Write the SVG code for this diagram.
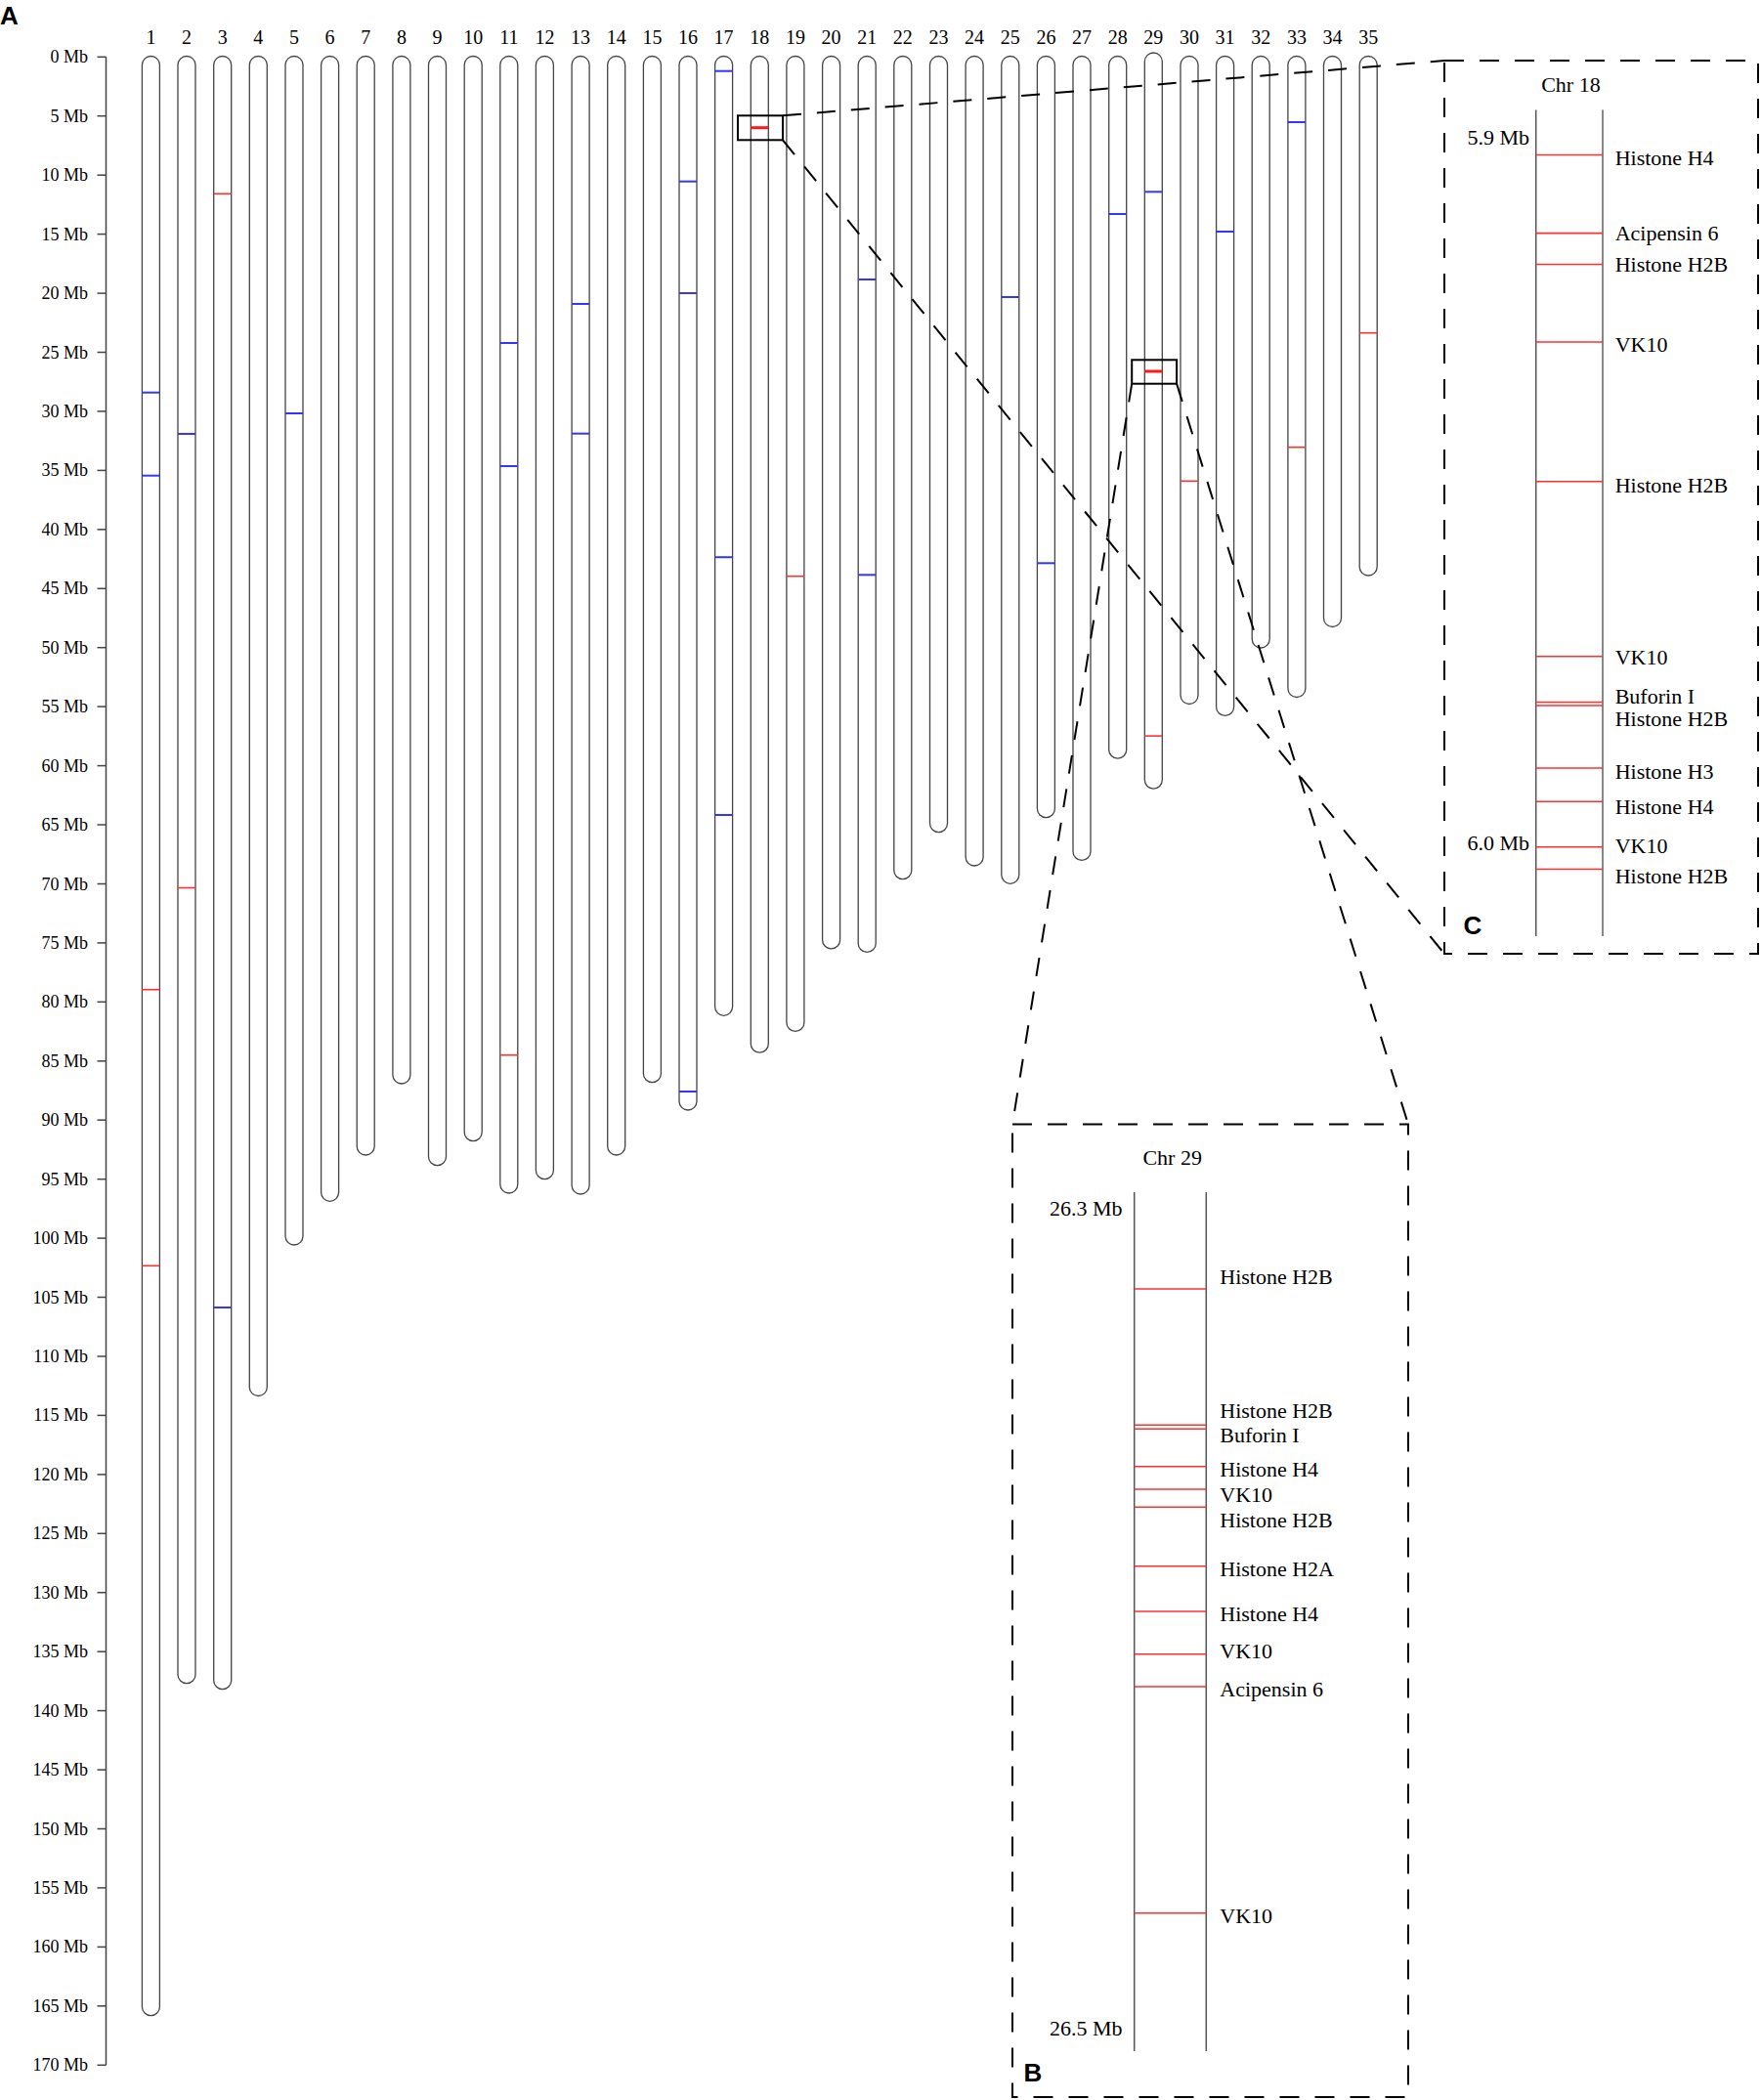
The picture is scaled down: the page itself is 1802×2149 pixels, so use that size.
<svg xmlns="http://www.w3.org/2000/svg" width="1802" height="2149" viewBox="0 0 1802 2149">
<style>
text{font-family:"Liberation Serif","Times New Roman",serif;fill:#000}
.num{font-size:20px;text-anchor:middle}
.ax{font-size:18px;text-anchor:end}
.pl{font-size:22px}
.pr{font-size:22px;text-anchor:end}
.pt{font-size:22px;text-anchor:middle}
.big{font-family:"Liberation Sans",Arial,sans-serif;font-size:26px;font-weight:bold}
.chr{fill:#fff;stroke:#444;stroke-width:1.3}
.b{stroke:#3535ff;stroke-width:2}
.r{stroke:#ff3030;stroke-width:1.6}
.rt{stroke:#ff1a1a;stroke-width:3}
.tick{stroke:#444;stroke-width:1.5}
.sel{fill:none;stroke:#000;stroke-width:2}
.dash{fill:none;stroke:#000;stroke-width:2;stroke-dasharray:19 16}
.box{fill:none;stroke:#000;stroke-width:2;stroke-dasharray:20 16}
.pline{stroke:#555;stroke-width:1.5}
</style>
<text class="big" x="0" y="25">A</text>
<g id="axis">
<line class="tick" x1="108.5" y1="58.3" x2="108.5" y2="2113.3"/>
<g class="tick">
<line x1="99.5" y1="58.3" x2="108.5" y2="58.3"/><line x1="99.5" y1="118.7" x2="108.5" y2="118.7"/><line x1="99.5" y1="179.2" x2="108.5" y2="179.2"/><line x1="99.5" y1="239.6" x2="108.5" y2="239.6"/><line x1="99.5" y1="300.1" x2="108.5" y2="300.1"/><line x1="99.5" y1="360.5" x2="108.5" y2="360.5"/><line x1="99.5" y1="420.9" x2="108.5" y2="420.9"/><line x1="99.5" y1="481.4" x2="108.5" y2="481.4"/><line x1="99.5" y1="541.8" x2="108.5" y2="541.8"/><line x1="99.5" y1="602.3" x2="108.5" y2="602.3"/><line x1="99.5" y1="662.7" x2="108.5" y2="662.7"/><line x1="99.5" y1="723.1" x2="108.5" y2="723.1"/><line x1="99.5" y1="783.6" x2="108.5" y2="783.6"/><line x1="99.5" y1="844" x2="108.5" y2="844"/><line x1="99.5" y1="904.5" x2="108.5" y2="904.5"/><line x1="99.5" y1="964.9" x2="108.5" y2="964.9"/><line x1="99.5" y1="1025.3" x2="108.5" y2="1025.3"/><line x1="99.5" y1="1085.8" x2="108.5" y2="1085.8"/><line x1="99.5" y1="1146.2" x2="108.5" y2="1146.2"/><line x1="99.5" y1="1206.7" x2="108.5" y2="1206.7"/><line x1="99.5" y1="1267.1" x2="108.5" y2="1267.1"/><line x1="99.5" y1="1327.5" x2="108.5" y2="1327.5"/><line x1="99.5" y1="1388" x2="108.5" y2="1388"/><line x1="99.5" y1="1448.4" x2="108.5" y2="1448.4"/><line x1="99.5" y1="1508.9" x2="108.5" y2="1508.9"/><line x1="99.5" y1="1569.3" x2="108.5" y2="1569.3"/><line x1="99.5" y1="1629.7" x2="108.5" y2="1629.7"/><line x1="99.5" y1="1690.2" x2="108.5" y2="1690.2"/><line x1="99.5" y1="1750.6" x2="108.5" y2="1750.6"/><line x1="99.5" y1="1811.1" x2="108.5" y2="1811.1"/><line x1="99.5" y1="1871.5" x2="108.5" y2="1871.5"/><line x1="99.5" y1="1931.9" x2="108.5" y2="1931.9"/><line x1="99.5" y1="1992.4" x2="108.5" y2="1992.4"/><line x1="99.5" y1="2052.8" x2="108.5" y2="2052.8"/><line x1="99.5" y1="2113.3" x2="108.5" y2="2113.3"/>
</g>
<text class="ax" x="90" y="64.3">0 Mb</text><text class="ax" x="90" y="124.7">5 Mb</text><text class="ax" x="90" y="185.2">10 Mb</text><text class="ax" x="90" y="245.6">15 Mb</text><text class="ax" x="90" y="306.1">20 Mb</text><text class="ax" x="90" y="366.5">25 Mb</text><text class="ax" x="90" y="426.9">30 Mb</text><text class="ax" x="90" y="487.4">35 Mb</text><text class="ax" x="90" y="547.8">40 Mb</text><text class="ax" x="90" y="608.3">45 Mb</text><text class="ax" x="90" y="668.7">50 Mb</text><text class="ax" x="90" y="729.1">55 Mb</text><text class="ax" x="90" y="789.6">60 Mb</text><text class="ax" x="90" y="850">65 Mb</text><text class="ax" x="90" y="910.5">70 Mb</text><text class="ax" x="90" y="970.9">75 Mb</text><text class="ax" x="90" y="1031.3">80 Mb</text><text class="ax" x="90" y="1091.8">85 Mb</text><text class="ax" x="90" y="1152.2">90 Mb</text><text class="ax" x="90" y="1212.7">95 Mb</text><text class="ax" x="90" y="1273.1">100 Mb</text><text class="ax" x="90" y="1333.5">105 Mb</text><text class="ax" x="90" y="1394">110 Mb</text><text class="ax" x="90" y="1454.4">115 Mb</text><text class="ax" x="90" y="1514.9">120 Mb</text><text class="ax" x="90" y="1575.3">125 Mb</text><text class="ax" x="90" y="1635.7">130 Mb</text><text class="ax" x="90" y="1696.2">135 Mb</text><text class="ax" x="90" y="1756.6">140 Mb</text><text class="ax" x="90" y="1817.1">145 Mb</text><text class="ax" x="90" y="1877.5">150 Mb</text><text class="ax" x="90" y="1937.9">155 Mb</text><text class="ax" x="90" y="1998.4">160 Mb</text><text class="ax" x="90" y="2058.8">165 Mb</text><text class="ax" x="90" y="2119.3">170 Mb</text>
</g>
<g id="chr1"><text class="num" x="154.4" y="45">1</text><rect class="chr" x="145.4" y="57.5" width="18" height="2005.2" rx="9"/><line class="b" x1="145.4" y1="401.7" x2="163.4" y2="401.7"/><line class="b" x1="145.4" y1="486.7" x2="163.4" y2="486.7"/><line class="r" x1="145.4" y1="1012.7" x2="163.4" y2="1012.7"/><line class="r" x1="145.4" y1="1295.3" x2="163.4" y2="1295.3"/></g>
<g id="chr2"><text class="num" x="191" y="45">2</text><rect class="chr" x="182" y="57.5" width="18" height="1665.2" rx="9"/><line class="b" x1="182" y1="444" x2="200" y2="444"/><line class="r" x1="182" y1="908.5" x2="200" y2="908.5"/></g>
<g id="chr3"><text class="num" x="227.7" y="45">3</text><rect class="chr" x="218.7" y="57.5" width="18" height="1671.2" rx="9"/><line class="r" x1="218.7" y1="198.3" x2="236.7" y2="198.3"/><line class="b" x1="218.7" y1="1338" x2="236.7" y2="1338"/></g>
<g id="chr4"><text class="num" x="264.3" y="45">4</text><rect class="chr" x="255.3" y="57.5" width="18" height="1371" rx="9"/></g>
<g id="chr5"><text class="num" x="301" y="45">5</text><rect class="chr" x="292" y="57.5" width="18" height="1216.5" rx="9"/><line class="b" x1="292" y1="423" x2="310" y2="423"/></g>
<g id="chr6"><text class="num" x="337.6" y="45">6</text><rect class="chr" x="328.6" y="57.5" width="18" height="1171.8" rx="9"/></g>
<g id="chr7"><text class="num" x="374.2" y="45">7</text><rect class="chr" x="365.2" y="57.5" width="18" height="1124.5" rx="9"/></g>
<g id="chr8"><text class="num" x="410.9" y="45">8</text><rect class="chr" x="401.9" y="57.5" width="18" height="1051.5" rx="9"/></g>
<g id="chr9"><text class="num" x="447.5" y="45">9</text><rect class="chr" x="438.5" y="57.5" width="18" height="1135.2" rx="9"/></g>
<g id="chr10"><text class="num" x="484.2" y="45">10</text><rect class="chr" x="475.2" y="57.5" width="18" height="1110.2" rx="9"/></g>
<g id="chr11"><text class="num" x="520.8" y="45">11</text><rect class="chr" x="511.8" y="57.5" width="18" height="1163.5" rx="9"/><line class="b" x1="511.8" y1="351" x2="529.8" y2="351"/><line class="b" x1="511.8" y1="477" x2="529.8" y2="477"/><line class="r" x1="511.8" y1="1079.7" x2="529.8" y2="1079.7"/></g>
<g id="chr12"><text class="num" x="557.4" y="45">12</text><rect class="chr" x="548.4" y="57.5" width="18" height="1149.2" rx="9"/></g>
<g id="chr13"><text class="num" x="594.1" y="45">13</text><rect class="chr" x="585.1" y="57.5" width="18" height="1164.5" rx="9"/><line class="b" x1="585.1" y1="311" x2="603.1" y2="311"/><line class="b" x1="585.1" y1="443.7" x2="603.1" y2="443.7"/></g>
<g id="chr14"><text class="num" x="630.7" y="45">14</text><rect class="chr" x="621.7" y="57.5" width="18" height="1124.5" rx="9"/></g>
<g id="chr15"><text class="num" x="667.4" y="45">15</text><rect class="chr" x="658.4" y="57.5" width="18" height="1050.2" rx="9"/></g>
<g id="chr16"><text class="num" x="704" y="45">16</text><rect class="chr" x="695" y="57.5" width="18" height="1078.5" rx="9"/><line class="b" x1="695" y1="185.7" x2="713" y2="185.7"/><line class="b" x1="695" y1="300" x2="713" y2="300"/><line class="b" x1="695" y1="1117" x2="713" y2="1117"/></g>
<g id="chr17"><text class="num" x="740.6" y="45">17</text><rect class="chr" x="731.6" y="57.5" width="18" height="981.8" rx="9"/><line class="b" x1="731.6" y1="72.7" x2="749.6" y2="72.7"/><line class="b" x1="731.6" y1="570.2" x2="749.6" y2="570.2"/><line class="b" x1="731.6" y1="834" x2="749.6" y2="834"/></g>
<g id="chr18"><text class="num" x="777.3" y="45">18</text><rect class="chr" x="768.3" y="57.5" width="18" height="1019.7" rx="9"/><line class="rt" x1="768.3" y1="130.7" x2="786.3" y2="130.7"/></g>
<g id="chr19"><text class="num" x="813.9" y="45">19</text><rect class="chr" x="804.9" y="57.5" width="18" height="997.9" rx="9"/><line class="r" x1="804.9" y1="589.7" x2="822.9" y2="589.7"/></g>
<g id="chr20"><text class="num" x="850.6" y="45">20</text><rect class="chr" x="841.6" y="57.5" width="18" height="913.4" rx="9"/></g>
<g id="chr21"><text class="num" x="887.2" y="45">21</text><rect class="chr" x="878.2" y="57.5" width="18" height="916.9" rx="9"/><line class="b" x1="878.2" y1="286" x2="896.2" y2="286"/><line class="b" x1="878.2" y1="588.3" x2="896.2" y2="588.3"/></g>
<g id="chr22"><text class="num" x="923.8" y="45">22</text><rect class="chr" x="914.8" y="57.5" width="18" height="842.2" rx="9"/></g>
<g id="chr23"><text class="num" x="960.5" y="45">23</text><rect class="chr" x="951.5" y="57.5" width="18" height="794.1" rx="9"/></g>
<g id="chr24"><text class="num" x="997.1" y="45">24</text><rect class="chr" x="988.1" y="57.5" width="18" height="828.5" rx="9"/></g>
<g id="chr25"><text class="num" x="1033.8" y="45">25</text><rect class="chr" x="1024.8" y="57.5" width="18" height="846.8" rx="9"/><line class="b" x1="1024.8" y1="304" x2="1042.8" y2="304"/></g>
<g id="chr26"><text class="num" x="1070.4" y="45">26</text><rect class="chr" x="1061.4" y="57.5" width="18" height="779.1" rx="9"/><line class="b" x1="1061.4" y1="576.3" x2="1079.4" y2="576.3"/></g>
<g id="chr27"><text class="num" x="1107" y="45">27</text><rect class="chr" x="1098" y="57.5" width="18" height="822.9" rx="9"/></g>
<g id="chr28"><text class="num" x="1143.7" y="45">28</text><rect class="chr" x="1134.7" y="57.5" width="18" height="718.7" rx="9"/><line class="b" x1="1134.7" y1="219" x2="1152.7" y2="219"/></g>
<g id="chr29"><text class="num" x="1180.3" y="45">29</text><rect class="chr" x="1171.3" y="54" width="18" height="753.1" rx="9"/><line class="b" x1="1171.3" y1="196.3" x2="1189.3" y2="196.3"/><line class="rt" x1="1171.3" y1="380" x2="1189.3" y2="380"/><line class="r" x1="1171.3" y1="753.1" x2="1189.3" y2="753.1"/></g>
<g id="chr30"><text class="num" x="1217" y="45">30</text><rect class="chr" x="1208" y="57.5" width="18" height="663" rx="9"/><line class="r" x1="1208" y1="492.3" x2="1226" y2="492.3"/></g>
<g id="chr31"><text class="num" x="1253.6" y="45">31</text><rect class="chr" x="1244.6" y="57.5" width="18" height="674.9" rx="9"/><line class="b" x1="1244.6" y1="237" x2="1262.6" y2="237"/></g>
<g id="chr32"><text class="num" x="1290.2" y="45">32</text><rect class="chr" x="1281.2" y="57.5" width="18" height="605.5" rx="9"/></g>
<g id="chr33"><text class="num" x="1326.9" y="45">33</text><rect class="chr" x="1317.9" y="57.5" width="18" height="656" rx="9"/><line class="b" x1="1317.9" y1="125" x2="1335.9" y2="125"/><line class="r" x1="1317.9" y1="457.7" x2="1335.9" y2="457.7"/></g>
<g id="chr34"><text class="num" x="1363.5" y="45">34</text><rect class="chr" x="1354.5" y="57.5" width="18" height="584" rx="9"/></g>
<g id="chr35"><text class="num" x="1400.2" y="45">35</text><rect class="chr" x="1391.2" y="57.5" width="18" height="531.5" rx="9"/><line class="r" x1="1391.2" y1="340.7" x2="1409.2" y2="340.7"/></g>
<g id="selections">
<rect class="sel" x="755" y="118.3" width="46" height="25"/>
<rect class="sel" x="1158.2" y="368.3" width="45.9" height="24.4"/>
</g>
<g id="connectors">
<line class="dash" x1="801" y1="118.3" x2="1478" y2="62"/>
<line class="dash" x1="801" y1="143.3" x2="1478" y2="976"/>
<line class="dash" x1="1158.2" y1="392.7" x2="1036" y2="1150.5"/>
<line class="dash" x1="1204.1" y1="392.7" x2="1441" y2="1150.5"/>
</g>
<g id="panelC">
<rect class="box" x="1478" y="62" width="321" height="914"/>
<text class="pt" x="1607.4" y="94">Chr 18</text>
<line class="pline" x1="1571.7" y1="112.5" x2="1571.7" y2="958"/>
<line stroke="#888" stroke-width="2" x1="1640" y1="112.5" x2="1640" y2="958"/>
<text class="pr" x="1565" y="148">5.9 Mb</text>
<text class="pr" x="1565" y="869.5">6.0 Mb</text>
<g class="r">
<line x1="1571.7" y1="158.5" x2="1640" y2="158.5"/><line x1="1571.7" y1="238.6" x2="1640" y2="238.6"/><line x1="1571.7" y1="270.5" x2="1640" y2="270.5"/><line x1="1571.7" y1="350" x2="1640" y2="350"/><line x1="1571.7" y1="492.7" x2="1640" y2="492.7"/><line x1="1571.7" y1="671.7" x2="1640" y2="671.7"/><line x1="1571.7" y1="718.5" x2="1640" y2="718.5"/><line x1="1571.7" y1="722" x2="1640" y2="722"/><line x1="1571.7" y1="786" x2="1640" y2="786"/><line x1="1571.7" y1="820.3" x2="1640" y2="820.3"/><line x1="1571.7" y1="866.7" x2="1640" y2="866.7"/><line x1="1571.7" y1="889.5" x2="1640" y2="889.5"/>
</g>
<text class="pl" x="1652.7" y="169.3">Histone H4</text>
<text class="pl" x="1652.7" y="245.6">Acipensin 6</text>
<text class="pl" x="1652.7" y="277.8">Histone H2B</text>
<text class="pl" x="1652.7" y="359.8">VK10</text>
<text class="pl" x="1652.7" y="503.8">Histone H2B</text>
<text class="pl" x="1652.7" y="680.3">VK10</text>
<text class="pl" x="1652.7" y="720">Buforin I</text>
<text class="pl" x="1652.7" y="742.8">Histone H2B</text>
<text class="pl" x="1652.7" y="796.8">Histone H3</text>
<text class="pl" x="1652.7" y="832.8">Histone H4</text>
<text class="pl" x="1652.7" y="873.3">VK10</text>
<text class="pl" x="1652.7" y="903.5">Histone H2B</text>
<text class="big" x="1497.5" y="956">C</text>
</g>
<g id="panelB">
<rect class="box" x="1036" y="1150.5" width="405" height="995.5"/>
<text class="pt" x="1199.7" y="1192">Chr 29</text>
<line class="pline" x1="1160.7" y1="1220" x2="1160.7" y2="2099"/>
<line class="pline" x1="1234.3" y1="1220" x2="1234.3" y2="2099"/>
<text class="pr" x="1148.5" y="1244">26.3 Mb</text>
<text class="pr" x="1148.5" y="2082.5">26.5 Mb</text>
<g class="r">
<line x1="1160.7" y1="1319" x2="1234.3" y2="1319"/><line x1="1160.7" y1="1458.3" x2="1234.3" y2="1458.3"/><line x1="1160.7" y1="1462.3" x2="1234.3" y2="1462.3"/><line x1="1160.7" y1="1500.7" x2="1234.3" y2="1500.7"/><line x1="1160.7" y1="1524" x2="1234.3" y2="1524"/><line x1="1160.7" y1="1542.3" x2="1234.3" y2="1542.3"/><line x1="1160.7" y1="1602.8" x2="1234.3" y2="1602.8"/><line x1="1160.7" y1="1649" x2="1234.3" y2="1649"/><line x1="1160.7" y1="1692.8" x2="1234.3" y2="1692.8"/><line x1="1160.7" y1="1726" x2="1234.3" y2="1726"/><line x1="1160.7" y1="1957.8" x2="1234.3" y2="1957.8"/>
</g>
<text class="pl" x="1248.3" y="1314">Histone H2B</text>
<text class="pl" x="1248.3" y="1450.6">Histone H2B</text>
<text class="pl" x="1248.3" y="1476.3">Buforin I</text>
<text class="pl" x="1248.3" y="1511.3">Histone H4</text>
<text class="pl" x="1248.3" y="1537.3">VK10</text>
<text class="pl" x="1248.3" y="1563">Histone H2B</text>
<text class="pl" x="1248.3" y="1613">Histone H2A</text>
<text class="pl" x="1248.3" y="1658.8">Histone H4</text>
<text class="pl" x="1248.3" y="1697.3">VK10</text>
<text class="pl" x="1248.3" y="1735.8">Acipensin 6</text>
<text class="pl" x="1248.3" y="1968">VK10</text>
<text class="big" x="1047.5" y="2129.5">B</text>
</g>
</svg>
